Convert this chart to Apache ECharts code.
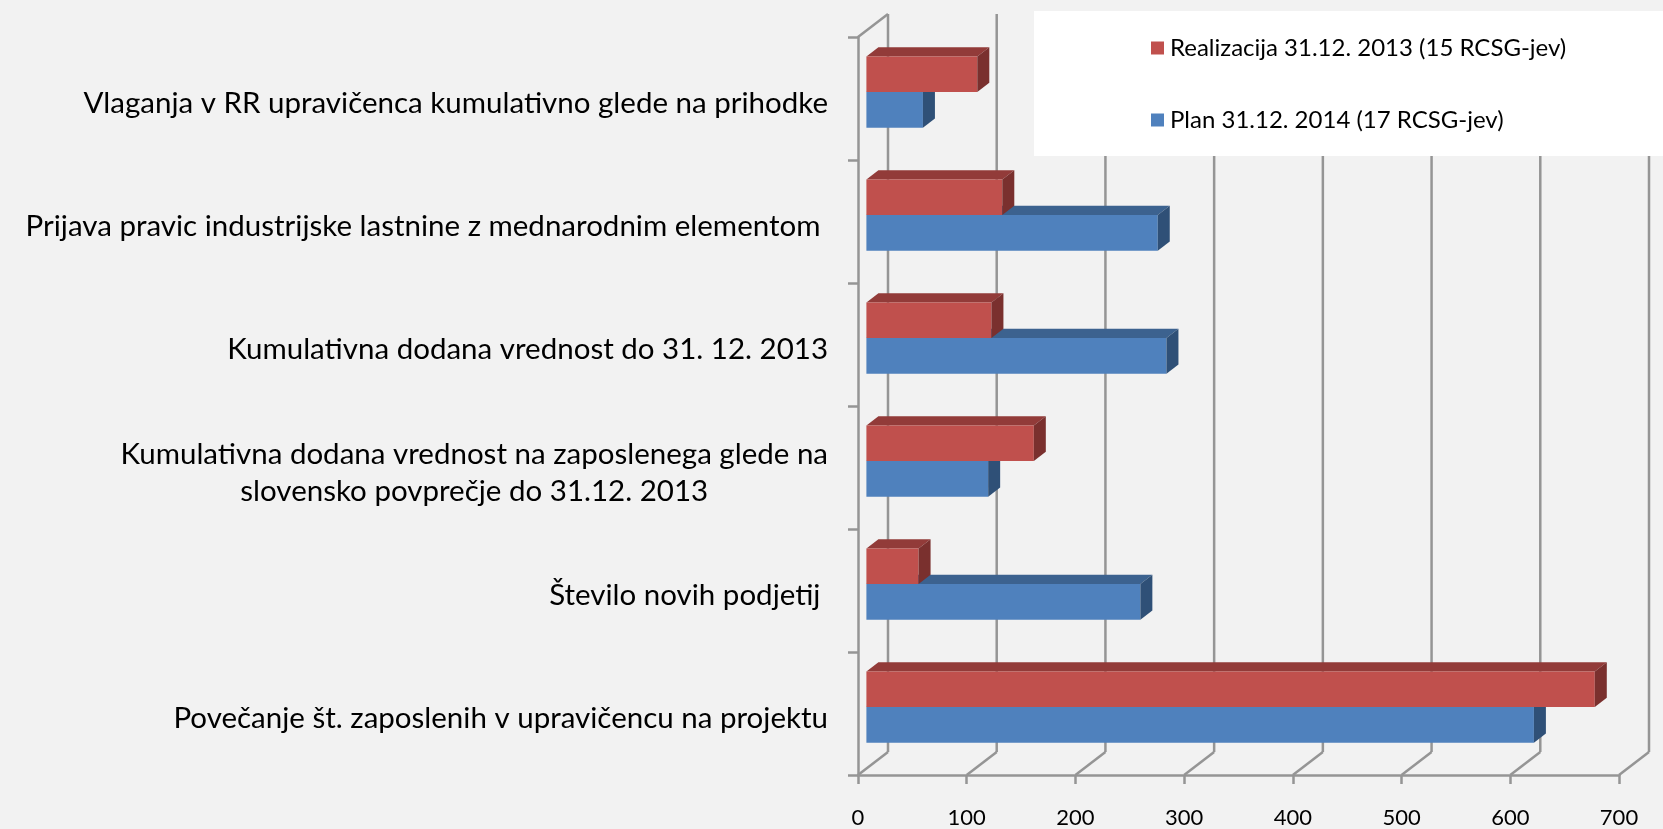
<!DOCTYPE html>
<html>
<head>
<meta charset="utf-8">
<script src="https://cdn.jsdelivr.net/npm/echarts@6/dist/echarts.min.js"></script>
<style>
  html, body { margin: 0; padding: 0; background: #f2f2f2; }
  #chart { width: 1663px; height: 829px; }
</style>
</head>
<body>
<div id="chart"></div>
<script>
// data
const categories = [
  'Vlaganja v RR upravičenca kumulativno glede na prihodke',
  'Prijava pravic industrijske lastnine z mednarodnim elementom ',
  'Kumulativna dodana vrednost do 31. 12. 2013',
  'Kumulativna dodana vrednost na zaposlenega glede na\nslovensko povprečje do 31.12. 2013',
  'Število novih podjetij ',
  'Povečanje št. zaposlenih v upravičencu na projektu'
]
const realizacija = [102, 125, 115, 154, 48, 670]
const plan = [52, 268, 276, 112, 252, 614]
const xTicks = [0, 100, 200, 300, 400, 500, 600, 700]
const seriesNames = ['Realizacija 31.12. 2013 (15 RCSG-jev)', 'Plan 31.12. 2014 (17 RCSG-jev)']

// fake 3d look
const DEPTH_X = 30
const DEPTH_Y = -23
const FRONT = 0.28
const THICK = 0.4
const BAR_FRAC = 0.29
const FONT = 'Lato'
const gridColor = '#959595'

function textWidth(str, size) {
  const ctx = document.createElement('canvas').getContext('2d')
  ctx.font = size + 'px ' + FONT
  return ctx.measureText(str).width
}

const labelSize = 29.5
const multiWidth = Math.max.apply(null, categories.filter(c => c.indexOf('\n') >= 0)
  .map(c => Math.max.apply(null, c.split('\n').map(l => textWidth(l, labelSize)))).concat([0]))

function barRenderer(colors, upper) {
  return (params, api) => {
    const i = api.value(1)
    const v = api.value(0)
    const p0 = api.coord([0, i])
    const p1 = api.coord([v, i])
    const h = api.size([0, 1])[1] * BAR_FRAC
    const dx = DEPTH_X * THICK
    const dy = DEPTH_Y * THICK
    const x0 = p0[0] + DEPTH_X * FRONT
    const x1 = p1[0] + DEPTH_X * FRONT
    const cy = p0[1] + DEPTH_Y * FRONT
    const yTop = upper ? cy - h : cy
    const yBot = upper ? cy : cy + h
    return {
      type: 'group',
      children: [
        { type: 'polygon', shape: { points: [[x0, yTop], [x1, yTop], [x1 + dx, yTop + dy], [x0 + dx, yTop + dy]] }, style: { fill: colors[1] } },
        { type: 'rect', shape: { x: x0, y: yTop, width: x1 - x0, height: yBot - yTop }, style: { fill: colors[0] } },
        { type: 'polygon', shape: { points: [[x1, yTop], [x1 + dx, yTop + dy], [x1 + dx, yBot + dy], [x1, yBot]] }, style: { fill: colors[2] } }
      ]
    }
  }
}

function frameRenderer(params, api) {
  const rect = params.coordSys
  const v = api.value(0)
  const x = api.coord([v, 0])[0]
  const bottom = rect.y + rect.height
  const top = rect.y
  const style = { stroke: gridColor, lineWidth: 2.5 }
  const children = [
    { type: 'line', shape: { x1: x, y1: bottom, x2: x + DEPTH_X, y2: bottom + DEPTH_Y }, style },
    { type: 'line', shape: { x1: x + DEPTH_X, y1: bottom + DEPTH_Y, x2: x + DEPTH_X, y2: top + DEPTH_Y }, style }
  ]
  if (v === 0) {
    children.push({ type: 'line', shape: { x1: x, y1: top, x2: x + DEPTH_X, y2: top + DEPTH_Y }, style })
  }
  return { type: 'group', children }
}

const option = {
  backgroundColor: '#f2f2f2',
  animation: false,
  textStyle: { fontFamily: FONT },
  grid: { left: 858, right: 44, top: 37, bottom: 54 },
  graphic: [{
    type: 'rect',
    left: 1034,
    top: 11,
    z: 5,
    shape: { width: 629, height: 145 },
    style: { fill: '#ffffff' }
  }],
  legend: {
    orient: 'vertical',
    left: 1151,
    top: 34,
    z: 10,
    padding: 0,
    itemGap: 44,
    itemWidth: 13,
    itemHeight: 13,
    icon: 'rect',
    data: seriesNames,
    textStyle: { fontFamily: FONT, fontSize: 24, color: '#000', lineHeight: 28, padding: [0, 0, 0, 1] }
  },
  xAxis: {
    type: 'value',
    min: 0,
    max: 700,
    interval: 100,
    axisLine: { show: true, lineStyle: { color: gridColor, width: 2.5 } },
    axisTick: { show: true, length: 9, lineStyle: { color: gridColor, width: 2.5 } },
    splitLine: { show: false },
    axisLabel: { margin: 32, fontSize: 22, color: '#000', fontFamily: FONT }
  },
  yAxis: {
    type: 'category',
    inverse: true,
    data: categories,
    axisLine: { show: true, lineStyle: { color: gridColor, width: 2.5 } },
    axisTick: { show: true, length: 10, lineStyle: { color: gridColor, width: 2.5 } },
    axisLabel: {
      margin: 30,
      fontSize: labelSize,
      color: '#000',
      fontFamily: FONT,
      align: 'right',
      padding: [10, 0, 0, 0],
      formatter: val => {
        if (val.indexOf('\n') < 0) return val
        return val.split('\n').map(l => '{c|' + l + '}').join('\n')
      },
      rich: {
        c: { width: multiWidth, align: 'center', fontSize: labelSize, fontFamily: FONT, color: '#000', lineHeight: 37 }
      }
    }
  },
  series: [
    {
      name: 'frame',
      type: 'custom',
      z: 1,
      silent: true,
      renderItem: frameRenderer,
      data: xTicks.map(v => [v, 0])
    },
    {
      name: seriesNames[0],
      type: 'custom',
      z: 3,
      itemStyle: { color: '#C0504D' },
      renderItem: barRenderer(['#C0504D', '#923b39', '#7a302e'], true),
      data: realizacija.map((v, i) => [v, i])
    },
    {
      name: seriesNames[1],
      type: 'custom',
      z: 2,
      itemStyle: { color: '#4F81BD' },
      renderItem: barRenderer(['#4F81BD', '#3c628f', '#2f5077'], false),
      data: plan.map((v, i) => [v, i])
    }
  ]
}

const chart = echarts.init(document.getElementById('chart'))
chart.setOption(option)
</script>
</body>
</html>
